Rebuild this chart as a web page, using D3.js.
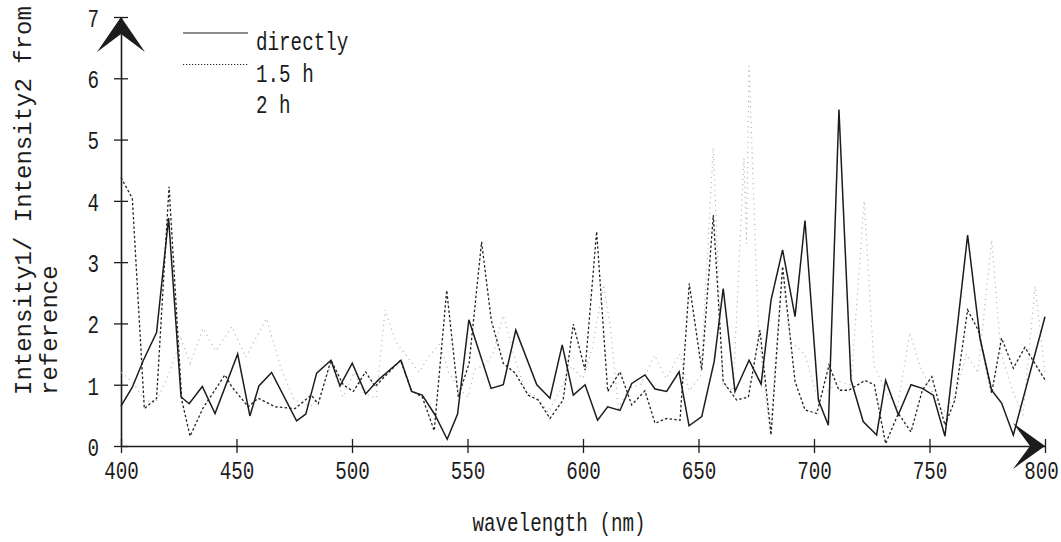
<!DOCTYPE html>
<html>
<head>
<meta charset="utf-8">
<script src="https://cdn.jsdelivr.net/npm/d3@7"></script>
<style>
  body { margin: 0; background: #fff; }
  text { font-family: "Liberation Mono", "DejaVu Sans Mono", monospace; }
</style>
</head>
<body>
<script>
// wavelengths (nm) and ratios, one pair of arrays per series
var seriesNames = ["directly", "1.5 h", "2 h"];

var wlDirect = [400,404.9,409.7,415.4,420.6,426,429.5,435.2,440.7,450.5,455.8,459.7,465.2,476,480,484.7,490.9,494.8,500.1,505.9,511.4,521.2,525.8,530.4,535.9,541.2,545.7,550.6,560.2,565.5,570.9,580,585.7,591,595.8,600.9,606.3,610.7,616,621.1,626.8,631.2,636.2,641.6,645.9,651.4,656.8,660.7,665.8,671.9,677.1,681.4,686.4,691.8,696.1,701.9,706.2,710.8,716,721.3,727.1,731,736.5,742,746.9,751.6,756.7,766.5,771.9,776.9,781.2,786.3,800];
var valDirect = [0.65,0.96,1.40,1.85,3.72,0.80,0.69,0.97,0.53,1.50,0.49,0.98,1.20,0.41,0.52,1.19,1.40,0.98,1.35,0.85,1.08,1.40,0.89,0.83,0.51,0.11,0.52,2.06,0.94,1.0,1.89,1.0,0.78,1.65,0.83,1.0,0.42,0.64,0.58,1.02,1.16,0.93,0.89,1.21,0.33,0.48,1.38,2.57,0.89,1.40,1.01,2.38,3.20,2.11,3.68,0.75,0.34,5.49,1.08,0.40,0.18,1.07,0.51,1.0,0.94,0.83,0.16,3.44,1.75,0.91,0.70,0.18,2.11];

var wl15h = [400,404.9,410.1,415.4,420.8,426.3,429.9,435.5,445,447.9,455.1,459.4,466.7,475.3,482.3,485.4,490.9,496.2,500.6,505.9,510,521,525.8,530.4,535.6,541,546,550.7,556.1,560.3,565.5,570.6,576.3,580.6,585.7,591.4,595.8,600.9,605.9,610.7,616,621.1,626.8,631.2,636.2,642,646,651.4,656.4,660.7,666.5,671.6,676.6,681.4,686.4,691.8,696.1,701.2,706.5,710.8,715,722.1,726.1,731,736.5,742,746.9,751,756.7,761,766.5,771.1,776.9,781.2,786.3,791.3,800];
var val15h = [4.38,4.04,0.61,0.78,4.23,0.75,0.16,0.62,1.16,0.97,0.64,0.78,0.64,0.61,0.83,0.69,1.40,1.0,0.89,1.21,0.97,1.40,0.9,0.8,0.25,2.54,0.8,1.35,3.33,2.05,1.35,1.19,0.83,0.75,0.45,0.75,1.99,1.24,3.50,0.89,1.21,0.67,0.9,0.37,0.45,0.42,2.65,1.24,3.77,1.05,0.75,0.80,1.89,0.18,2.93,1.05,0.59,0.53,1.32,0.91,0.91,1.07,1.0,0.04,0.53,0.23,0.91,1.13,0.34,0.75,2.22,1.89,0.86,1.76,1.27,1.61,1.08];

var wl2h = [400,405,410,415,421,426,430,435.5,441,448,454,463,469,475,482,486,491,496,501,505.5,510.5,514.3,519,524,529,533,538,542,546,550.3,553,557.6,561,565.5,570,575,580,585,590,595,600,604,608.9,612,615.3,620,625,631,636,641.8,646,651,656.4,660.5,665,669.7,670.8,671.9,676,681,686,690,696,701,706,711,716,721.7,726,731,736,741.5,746,751,756,761,766,771,776.9,781,786,790.5,795.7,800];
var val2h = [1.2,1.05,0.75,0.7,1.2,1.75,1.35,1.92,1.55,1.95,1.45,2.08,1.3,0.75,0.65,0.8,1.35,0.8,1.2,0.85,0.78,2.22,1.7,1.45,1.2,1.45,1.67,1.2,0.95,0.8,1.25,1.32,1.5,2.13,1.5,0.9,0.8,0.55,0.9,1.3,1.1,1.6,2.63,1.9,0.61,0.95,1.0,1.48,1.1,1.5,0.9,1.15,4.86,1.0,0.9,4.7,3.3,6.2,1.8,0.2,2.8,1.7,1.5,0.85,0.9,1.05,1.0,4.0,1.3,0.9,0.6,1.85,1.3,0.9,0.55,0.8,1.5,1.19,3.36,1.5,0.9,0.5,2.6,1.2];

var xTicks = [400,450,500,550,600,650,700,750,800];
var yTicks = [0,1,2,3,4,5,6,7];

var width = 1061, height = 542;
var ink = "#1c1c1c";
var squeeze = 0.74;   // the scan's lettering is tall and narrow

var x = d3.scaleLinear().domain([400, 800]).range([121, 1045]);
var y = d3.scaleLinear().domain([0, 7]).range([446, 17]);

var svg = d3.select("body").append("svg")
    .attr("width", width)
    .attr("height", height);

// x axis, ticks cross the line
var gx = svg.append("g")
    .attr("transform", "translate(0," + y(0) + ")")
    .call(d3.axisBottom(x).tickValues(xTicks).tickSizeOuter(0).tickFormat(d3.format("d")));
gx.select(".domain").attr("stroke", ink).attr("stroke-width", 1.6);
gx.selectAll(".tick line").attr("y1", -7).attr("y2", 7).attr("stroke", ink).attr("stroke-width", 1.3);
gx.selectAll(".tick text")
    .attr("y", 33).attr("dy", null)
    .attr("x", function(d) { return d == 800 ? -4 / squeeze : 0; })
    .attr("font-size", 26)
    .attr("fill", ink)
    .attr("transform", "scale(" + squeeze + ",1)");

// y axis
var gy = svg.append("g")
    .attr("transform", "translate(" + x(400) + ",0)")
    .call(d3.axisLeft(y).tickValues(yTicks).tickSizeOuter(0).tickFormat(d3.format("d")));
gy.select(".domain").attr("stroke", ink).attr("stroke-width", 1.6);
gy.selectAll(".tick line").attr("x1", -7).attr("x2", 7).attr("stroke", ink).attr("stroke-width", 1.3);
gy.selectAll(".tick text")
    .attr("x", -22 / squeeze)
    .attr("dy", "0.36em")
    .attr("font-size", 26)
    .attr("fill", ink)
    .attr("transform", "scale(" + squeeze + ",1)");

// arrow heads at the axis ends
var tx = x(400), ty = y(7);
svg.append("path")
    .attr("d", "M" + tx + "," + ty + "L" + (tx - 24) + "," + (ty + 35) + "L" + tx + "," + (ty + 17) + "L" + (tx + 24) + "," + (ty + 35) + "Z")
    .attr("fill", ink);
var ax = x(800), ay = y(0);
svg.append("path")
    .attr("d", "M" + ax + "," + ay + "L" + (ax - 32) + "," + (ay - 23) + "L" + (ax - 15) + "," + ay + "L" + (ax - 32) + "," + (ay + 23) + "Z")
    .attr("fill", ink);

// lines
var line = d3.line()
    .x(function(d) { return x(d[0]); })
    .y(function(d) { return y(d[1]); });

var styles = [
  { stroke: ink,       width: 1.5, dash: null },
  { stroke: "#222",    width: 1.3, dash: "2.5,2.2" },
  { stroke: "#b4b4b4", width: 1.2, dash: "1.1,4" }
];
var series = [d3.zip(wlDirect, valDirect), d3.zip(wl15h, val15h), d3.zip(wl2h, val2h)];

// draw faint first so the darker lines sit on top
[2, 1, 0].forEach(function(i) {
  svg.append("path")
      .datum(series[i])
      .attr("fill", "none")
      .attr("stroke", styles[i].stroke)
      .attr("stroke-width", styles[i].width)
      .attr("stroke-dasharray", styles[i].dash)
      .attr("stroke-linejoin", "miter")
      .attr("d", line);
});

// legend, sample line sits at the top of the text (2 h sample is barely visible in the scan)
var legend = svg.append("g");
seriesNames.forEach(function(name, i) {
  var base = 50 + i * 31.5;
  legend.append("line")
      .attr("x1", 183).attr("x2", 248)
      .attr("y1", base - 17).attr("y2", base - 17)
      .attr("stroke", i == 2 ? "#f2f2f2" : styles[i].stroke)
      .attr("stroke-width", i == 1 ? 1.1 : 1.2)
      .attr("stroke-dasharray", i == 1 ? "1.2,1.8" : styles[i].dash);
  legend.append("g")
      .attr("transform", "translate(256," + base + ")")
    .append("text")
      .attr("transform", "scale(" + squeeze + ",1)")
      .attr("font-size", 26)
      .attr("fill", ink)
      .text(name);
});

// axis titles
svg.append("g")
    .attr("transform", "translate(559,531)")
  .append("text")
    .attr("transform", "scale(" + squeeze + ",1)")
    .attr("text-anchor", "middle")
    .attr("font-size", 26)
    .attr("fill", ink)
    .text("wavelength (nm)");

svg.append("text")
    .attr("transform", "translate(31,395) rotate(-90)")
    .attr("font-size", 24)
    .attr("fill", ink)
    .text("Intensity1/ Intensity2 from");
svg.append("text")
    .attr("transform", "translate(57,395) rotate(-90)")
    .attr("font-size", 24)
    .attr("fill", ink)
    .text("reference");
</script>
</body>
</html>
